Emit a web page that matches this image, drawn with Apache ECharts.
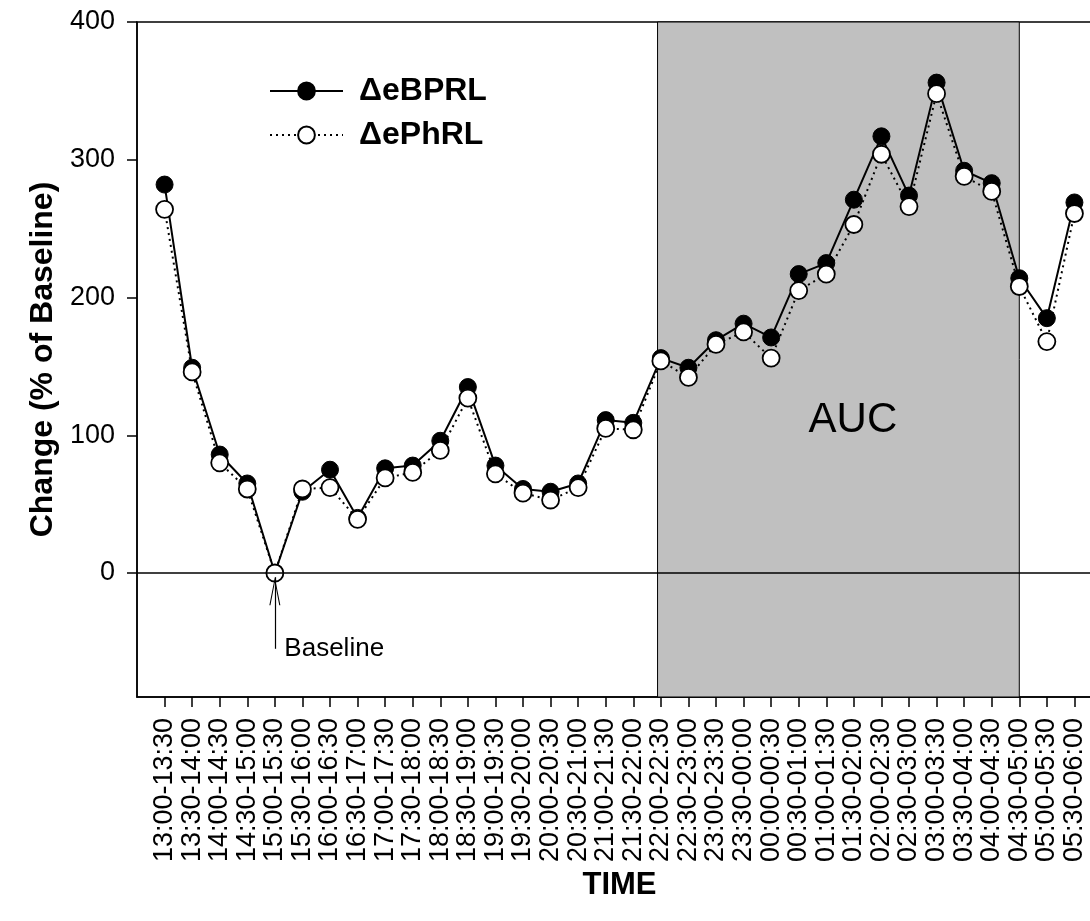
<!DOCTYPE html>
<html>
<head>
<meta charset="utf-8">
<script src="https://cdn.jsdelivr.net/npm/echarts@6/dist/echarts.min.js"></script>
<style>
  html, body { margin: 0; padding: 0; background: #fff; }
  #chart { width: 1090px; height: 921px; }
</style>
</head>
<body>
<div id="chart"></div>
<script>
// ========== data ==========
const timeLabels = [
  '13:00-13:30', '13:30-14:00', '14:00-14:30', '14:30-15:00', '15:00-15:30',
  '15:30-16:00', '16:00-16:30', '16:30-17:00', '17:00-17:30', '17:30-18:00',
  '18:00-18:30', '18:30-19:00', '19:00-19:30', '19:30-20:00', '20:00-20:30',
  '20:30-21:00', '21:00-21:30', '21:30-22:00', '22:00-22:30', '22:30-23:00',
  '23:00-23:30', '23:30-00:00', '00:00-00:30', '00:30-01:00', '01:00-01:30',
  '01:30-02:00', '02:00-02:30', '02:30-03:00', '03:00-03:30', '03:30-04:00',
  '04:00-04:30', '04:30-05:00', '05:00-05:30', '05:30-06:00'
];
const eBPRL = [282, 149, 86, 65, 0, 59, 75, 40, 76, 78, 96, 135, 78, 61, 59, 65, 111, 109,
               156, 149, 169, 181, 171, 217, 225, 271, 317, 274, 356, 292, 283, 214, 185, 269];
const ePhRL = [264, 146, 80, 61, 0, 61, 62, 39, 69, 73, 89, 127, 72, 58, 53, 62, 105, 104,
               154, 142, 166, 175, 156, 205, 217, 253, 304, 266, 348, 288, 277, 208, 168, 261];
const yTicks = [0, 100, 200, 300, 400];
const aucRange = [17.88, 31];   // shaded AUC window (category index)
const baselineIndex = 4;

const FONT = "'Liberation Sans', Arial, sans-serif";
const xTicks = timeLabels.map((_, i) => i);

const chart = echarts.init(document.getElementById('chart'));

chart.setOption({
  animation: false,
  textStyle: { fontFamily: FONT, color: '#000' },
  grid: {
    left: 137, top: 22, bottom: 224, right: -12,
    containLabel: false, outerBoundsMode: 'none',
    show: true, borderColor: '#000', borderWidth: 1.5, backgroundColor: 'transparent'
  },
  legend: {
    orient: 'vertical',
    left: 269, top: 75, padding: 0,
    itemWidth: 73, itemHeight: 21, itemGap: 12,
    textStyle: { fontFamily: FONT, fontSize: 32, fontWeight: 'bold', color: '#000', padding: [0, 0, 0, 11] },
    data: ['\u0394eBPRL', '\u0394ePhRL']
  },
  xAxis: {
    type: 'value',
    min: -1, max: 34,
    name: 'TIME',
    nameLocation: 'middle',
    nameGap: 163,
    nameTextStyle: { fontFamily: FONT, fontSize: 31, fontWeight: 'bold', color: '#000' },
    axisLine: { show: true, onZero: false, lineStyle: { color: '#000', width: 1.5 } },
    axisTick: { show: true, length: 10, inside: false, customValues: xTicks, lineStyle: { color: '#000', width: 1.5 } },
    axisLabel: {
      customValues: xTicks,
      rotate: 90, margin: 21,
      fontFamily: FONT, fontSize: 27, color: '#000',
      formatter: v => timeLabels[v] || ''
    },
    splitLine: { show: false }
  },
  yAxis: {
    type: 'value',
    min: -90, max: 400,
    name: 'Change (% of Baseline)',
    nameLocation: 'middle',
    nameGap: 78,
    nameTextStyle: { fontFamily: FONT, fontSize: 32, fontWeight: 'bold', color: '#000' },
    axisLine: { show: true, onZero: false, lineStyle: { color: '#000', width: 1.5 } },
    axisTick: { show: true, length: 10, inside: false, customValues: yTicks, lineStyle: { color: '#000', width: 1.5 } },
    axisLabel: { customValues: yTicks, margin: 22, fontFamily: FONT, fontSize: 27, color: '#000' },
    splitLine: { show: false }
  },
  series: [
    {
      name: '\u0394eBPRL',
      type: 'line',
      data: eBPRL.map((v, i) => [i, v]),
      symbol: 'circle', symbolSize: 17,
      itemStyle: { color: '#000', borderColor: '#000', borderWidth: 1 },
      lineStyle: { color: '#000', width: 2 },
      z: 3,
      markArea: {
        silent: true,
        z: 1,
        itemStyle: { color: '#c0c0c0', borderColor: '#000', borderWidth: 1 },
        label: {
          show: true, position: ['54%', '59%'], align: 'center', verticalAlign: 'middle',
          fontFamily: FONT, fontSize: 42, color: '#000'
        },
        data: [[{ xAxis: aucRange[0], name: 'AUC' }, { xAxis: aucRange[1] }]]
      },
      markLine: {
        silent: true,
        symbol: 'none',
        label: { show: false },
        lineStyle: { color: '#000', width: 1.5, type: 'solid' },
        data: [
          { yAxis: 0 },
          [
            { coord: [baselineIndex, -55], symbol: 'none', lineStyle: { width: 1.2 } },
            {
              coord: [baselineIndex, -3],
              symbol: 'path://M0,0 L5,28 L4,28 L0,5 L-4,28 L-5,28 Z',
              symbolSize: [11, 28],
              symbolOffset: [0, 14]
            }
          ]
        ]
      },
      markPoint: {
        silent: true,
        data: [{
          coord: [baselineIndex, -55],
          symbol: 'circle', symbolSize: 1,
          itemStyle: { color: 'transparent' },
          label: {
            show: true, formatter: 'Baseline', position: 'right', distance: 9,
            fontFamily: FONT, fontSize: 26, color: '#000'
          }
        }]
      }
    },
    {
      name: '\u0394ePhRL',
      type: 'line',
      data: ePhRL.map((v, i) => [i, v]),
      symbol: 'circle', symbolSize: 17,
      itemStyle: { color: '#fff', borderColor: '#000', borderWidth: 1.8 },
      lineStyle: { color: '#000', width: 2, type: [2, 4] },
      z: 4
    }
  ]
});
</script>
</body>
</html>
